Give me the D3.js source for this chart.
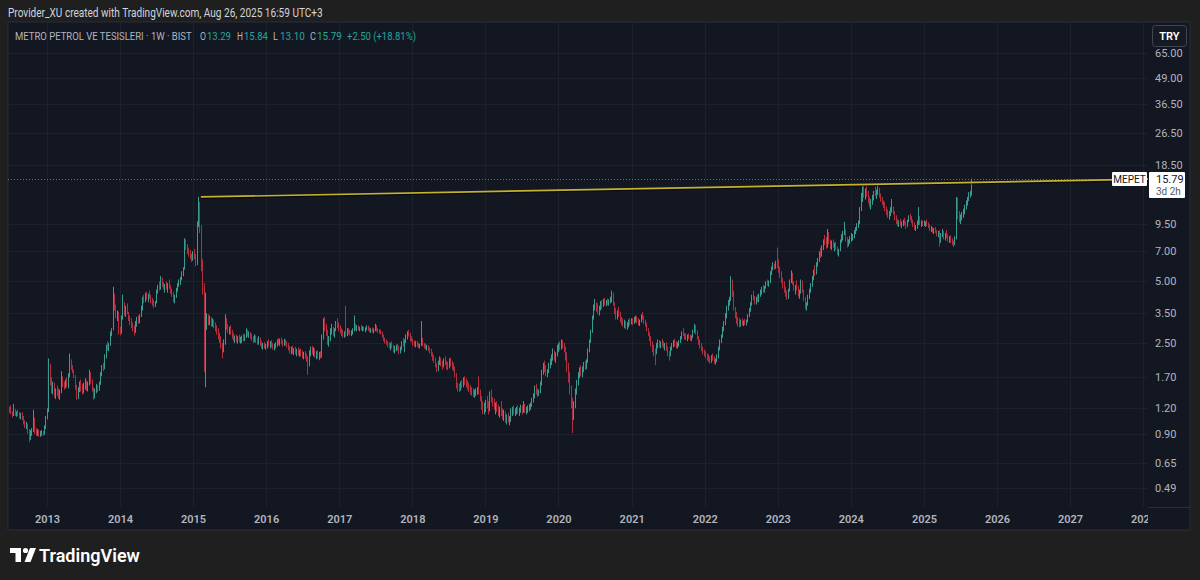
<!DOCTYPE html>
<html><head><meta charset="utf-8">
<script src="https://cdn.jsdelivr.net/npm/d3@7"></script>
<style>html,body{margin:0;padding:0;background:#1f1f1f;}svg{display:block;font-family:Roboto,"Noto Sans",sans-serif;}</style>
</head><body><svg id="c" width="1200" height="580"></svg>
<script>
// ---------- DATA (weekly candles: [high, low, close]; open = previous close) ----------
const firstOpen = 1.20;
const w2012 = [[1.22,1.14,1.18],[1.24,1.12,1.14],[1.16,1.08,1.12],[1.26,1.10,1.17],[1.19,1.10,1.12],[1.16,1.09,1.13],[1.18,1.10,1.11],[1.15,1.07,1.09],[1.14,1.06,1.12],[1.15,1.05,1.08],[1.10,1.00,1.02],[1.05,0.96,0.98],[1.03,0.95,1.00],[1.01,0.90,0.92],[0.95,0.82,0.86],[0.94,0.84,0.92],[0.96,0.88,0.94],[1.18,0.92,1.05],[1.08,0.90,0.93],[0.96,0.88,0.91],[0.95,0.88,0.92],[0.94,0.87,0.90],[0.93,0.87,0.91],[0.94,0.88,0.92],[0.93,0.88,0.90],[0.99,0.89,0.97],[1.10,0.95,1.08]];
const w2013 = [[1.20,1.06,1.18],[2.10,1.15,1.95],[1.98,1.55,1.62],[1.70,1.42,1.50],[1.62,1.40,1.58],[1.60,1.35,1.40],[1.50,1.33,1.45],[1.55,1.38,1.42],[1.50,1.34,1.38],[1.48,1.32,1.44],[1.82,1.42,1.70],[1.72,1.52,1.56],[1.62,1.48,1.52],[1.66,1.50,1.60],[1.70,1.52,1.55],[1.78,1.50,1.72],[2.22,1.70,2.05],[2.08,1.85,1.90],[1.95,1.78,1.82],[1.86,1.68,1.72],[1.74,1.48,1.52],[1.56,1.32,1.38],[1.52,1.33,1.48],[1.62,1.44,1.58],[1.66,1.45,1.50],[1.58,1.40,1.46],[1.60,1.42,1.55],[1.68,1.48,1.62],[1.64,1.46,1.50],[1.62,1.45,1.58],[1.85,1.55,1.78],[1.80,1.58,1.62],[1.66,1.45,1.48],[1.52,1.32,1.38],[1.50,1.34,1.46],[1.58,1.42,1.52],[1.56,1.44,1.48],[1.62,1.46,1.58],[1.80,1.56,1.76],[1.95,1.72,1.90],[2.00,1.82,1.88],[2.20,1.86,2.15],[2.45,2.10,2.40],[2.55,2.30,2.35],[2.50,2.28,2.46],[2.85,2.42,2.78],[2.95,2.70,2.90],[4.70,2.88,4.20],[4.35,3.60,3.70],[3.85,3.30,3.40],[3.60,3.20,3.50],[3.55,2.75,2.90]];
const w2014 = [[3.00,2.72,2.80],[3.40,2.78,3.30],[4.30,3.25,3.90],[3.95,3.40,3.55],[3.80,3.35,3.70],[3.90,3.45,3.50],[3.55,3.20,3.30],[3.40,3.05,3.15],[3.30,2.95,3.05],[3.15,2.85,2.95],[3.05,2.72,2.85],[3.20,2.80,3.10],[3.35,3.00,3.25],[3.40,3.10,3.20],[3.45,3.12,3.38],[3.80,3.35,3.70],[4.20,3.60,4.10],[4.30,3.90,4.00],[4.40,3.95,4.30],[4.45,4.05,4.15],[4.35,3.95,4.25],[4.50,4.10,4.20],[4.30,3.90,4.00],[4.15,3.80,3.95],[4.05,3.70,3.85],[4.00,3.75,3.92],[4.55,3.90,4.45],[4.80,4.35,4.70],[5.00,4.50,4.60],[5.30,4.55,5.10],[5.20,4.70,4.80],[4.95,4.55,4.65],[4.85,4.40,4.75],[5.00,4.55,4.62],[4.90,4.40,4.85],[5.10,4.60,4.70],[4.80,4.35,4.45],[4.60,4.20,4.30],[4.45,3.95,4.10],[4.30,3.90,4.20],[4.65,4.15,4.55],[4.90,4.45,4.80],[5.10,4.70,4.90],[5.25,4.80,5.15],[5.60,5.05,5.50],[5.85,5.30,5.75],[8.10,5.70,7.60],[8.00,7.10,7.40],[7.60,6.80,7.00],[7.30,6.60,6.90],[7.10,6.40,6.55],[6.80,6.20,6.50]];
const w2015 = [[7.00,6.30,6.80],[7.20,6.40,6.60],[6.80,5.90,6.10],[9.80,6.00,9.40],[12.90,9.20,11.90],[12.20,8.60,9.20],[9.40,5.60,6.10],[6.40,4.30,4.70],[4.90,1.80,2.45],[4.40,1.52,3.30],[3.50,2.90,3.40],[3.45,3.05,3.20],[3.40,3.05,3.30],[3.35,3.00,3.10],[3.30,3.00,3.20],[3.25,2.95,3.05],[3.15,2.85,2.95],[3.05,2.75,2.90],[2.95,2.60,2.70],[2.80,2.50,2.60],[2.70,2.35,2.45],[2.50,2.10,2.30],[2.60,2.25,2.50],[3.45,2.45,3.20],[3.30,2.90,3.00],[3.10,2.80,2.90],[3.00,2.75,2.95],[3.05,2.75,2.80],[2.90,2.62,2.70],[2.80,2.55,2.62],[2.72,2.50,2.66],[2.75,2.52,2.58],[2.70,2.48,2.62],[2.74,2.52,2.55],[2.68,2.48,2.60],[2.72,2.50,2.65],[2.78,2.55,2.62],[2.75,2.55,2.70],[2.95,2.65,2.88],[2.90,2.68,2.75],[2.85,2.65,2.80],[2.82,2.62,2.70],[2.78,2.55,2.62],[2.70,2.50,2.58],[2.75,2.52,2.68],[2.72,2.50,2.55],[2.65,2.45,2.50],[2.70,2.45,2.62],[2.66,2.42,2.48],[2.55,2.35,2.42],[2.50,2.32,2.45],[2.52,2.35,2.40],[2.48,2.32,2.42]];
const w2016 = [[2.55,2.35,2.50],[2.60,2.40,2.45],[2.55,2.35,2.52],[2.58,2.38,2.42],[2.50,2.32,2.40],[2.48,2.30,2.44],[2.52,2.35,2.48],[2.60,2.40,2.55],[2.65,2.45,2.50],[2.62,2.42,2.58],[2.66,2.46,2.52],[2.58,2.40,2.48],[2.62,2.42,2.55],[2.60,2.44,2.50],[2.55,2.38,2.42],[2.50,2.30,2.38],[2.42,2.22,2.30],[2.40,2.20,2.35],[2.42,2.22,2.28],[2.36,2.18,2.32],[2.40,2.20,2.26],[2.34,2.15,2.30],[2.38,2.18,2.24],[2.32,2.14,2.28],[2.35,2.15,2.22],[2.30,2.10,2.18],[2.26,2.08,2.20],[2.28,2.10,2.15],[2.22,2.02,2.10],[2.15,1.75,1.95],[2.30,1.92,2.25],[2.40,2.15,2.35],[2.42,2.20,2.28],[2.38,2.15,2.30],[2.35,2.12,2.20],[2.28,2.08,2.22],[2.30,2.10,2.18],[2.26,2.06,2.20],[2.28,2.10,2.14],[2.75,2.12,2.65],[3.30,2.60,3.10],[3.35,2.85,2.95],[3.10,2.70,2.80],[2.90,2.45,2.55],[2.70,2.40,2.62],[2.95,2.55,2.85],[3.10,2.75,2.90],[3.00,2.70,2.78],[2.95,2.65,2.90],[3.20,2.85,3.10],[3.30,2.95,3.05],[3.15,2.85,2.95]];
const w2017 = [[3.05,2.78,2.85],[2.95,2.70,2.80],[2.90,2.65,2.75],[2.85,2.65,2.78],[3.80,2.68,2.72],[2.95,2.70,2.88],[2.95,2.75,2.82],[2.90,2.72,2.78],[2.88,2.70,2.85],[2.95,2.75,2.90],[3.40,2.85,3.05],[3.10,2.88,2.95],[3.05,2.85,3.00],[3.05,2.88,2.92],[3.00,2.85,2.98],[3.05,2.88,2.94],[3.02,2.85,2.96],[3.00,2.86,2.90],[2.98,2.82,2.95],[3.05,2.88,3.00],[3.04,2.86,2.92],[2.98,2.82,2.88],[2.95,2.80,2.90],[2.98,2.82,2.86],[2.94,2.78,2.92],[3.10,2.85,3.02],[3.05,2.85,2.90],[2.95,2.80,2.88],[2.92,2.78,2.84],[2.90,2.75,2.80],[2.84,2.65,2.70],[2.75,2.55,2.60],[2.65,2.48,2.55],[2.60,2.45,2.50],[2.55,2.38,2.45],[2.52,2.35,2.40],[2.50,2.30,2.45],[2.55,2.35,2.38],[2.45,2.25,2.32],[2.42,2.22,2.35],[2.45,2.28,2.40],[2.48,2.30,2.36],[2.42,2.20,2.30],[2.40,2.22,2.35],[2.55,2.30,2.50],[2.65,2.40,2.45],[2.60,2.25,2.55],[2.75,2.50,2.70],[2.85,2.60,2.80],[2.90,2.68,2.75],[2.80,2.55,2.60],[2.70,2.52,2.58]];
const w2018 = [[2.62,2.42,2.50],[2.58,2.40,2.45],[2.55,2.38,2.52],[2.56,2.40,2.44],[2.50,2.36,2.42],[2.48,2.35,2.46],[3.20,2.42,2.60],[2.65,2.40,2.45],[2.50,2.35,2.42],[2.48,2.32,2.38],[2.45,2.30,2.40],[2.44,2.28,2.32],[2.38,2.22,2.30],[2.34,2.15,2.20],[2.25,2.05,2.12],[2.18,2.00,2.08],[2.12,1.90,1.95],[2.00,1.80,1.85],[2.05,1.82,2.00],[2.15,1.95,2.10],[2.12,1.92,1.98],[2.05,1.85,1.92],[2.10,1.90,2.05],[2.15,1.95,2.00],[2.05,1.86,1.95],[2.02,1.84,1.90],[2.10,1.88,2.05],[2.12,1.92,1.98],[2.04,1.85,1.92],[2.00,1.82,1.90],[1.92,1.70,1.75],[1.78,1.50,1.55],[1.60,1.45,1.52],[1.58,1.44,1.50],[1.62,1.46,1.58],[1.65,1.50,1.55],[1.70,1.52,1.66],[1.72,1.56,1.62],[1.68,1.52,1.58],[1.64,1.48,1.55],[1.60,1.44,1.50],[1.56,1.40,1.46],[1.52,1.38,1.44],[1.50,1.36,1.40],[1.48,1.35,1.42],[1.50,1.38,1.45],[1.52,1.40,1.48],[1.72,1.40,1.44],[1.48,1.30,1.35],[1.38,1.18,1.22],[1.30,1.12,1.20],[1.28,1.12,1.24]];
const w2019 = [[1.32,1.15,1.28],[1.38,1.20,1.25],[1.30,1.12,1.18],[1.45,1.16,1.40],[1.48,1.28,1.32],[1.36,1.22,1.30],[1.34,1.18,1.22],[1.28,1.12,1.25],[1.30,1.15,1.20],[1.25,1.10,1.15],[1.22,1.08,1.18],[1.30,1.10,1.14],[1.20,1.06,1.10],[1.18,1.04,1.12],[1.16,1.02,1.06],[1.12,1.00,1.08],[1.14,1.02,1.04],[1.10,0.99,1.05],[1.20,1.03,1.15],[1.22,1.10,1.18],[1.24,1.12,1.16],[1.20,1.10,1.17],[1.22,1.12,1.19],[1.24,1.13,1.16],[1.21,1.10,1.18],[1.25,1.14,1.20],[1.24,1.12,1.17],[1.30,1.14,1.22],[1.26,1.14,1.18],[1.22,1.12,1.20],[1.24,1.14,1.21],[1.26,1.16,1.23],[1.28,1.18,1.26],[1.35,1.22,1.32],[1.42,1.28,1.38],[1.55,1.34,1.50],[1.58,1.40,1.45],[1.50,1.36,1.42],[1.48,1.38,1.46],[1.62,1.42,1.58],[1.85,1.55,1.80],[2.00,1.75,1.95],[2.05,1.80,1.88],[1.95,1.72,1.78],[1.86,1.70,1.82],[2.00,1.78,1.95],[2.10,1.88,2.02],[2.20,1.95,2.15],[2.35,2.05,2.28],[2.30,2.05,2.12],[2.25,2.00,2.20],[2.45,2.15,2.40]];
const w2020 = [[2.50,2.25,2.45],[2.55,2.30,2.40],[2.60,2.32,2.52],[2.58,2.35,2.45],[2.50,2.25,2.30],[2.40,2.05,2.15],[2.25,1.80,1.95],[2.00,1.60,1.70],[1.80,1.40,1.50],[1.55,1.20,1.30],[1.35,0.91,1.10],[1.30,1.05,1.25],[1.50,1.20,1.45],[1.65,1.40,1.60],[1.80,1.55,1.75],[1.90,1.68,1.82],[1.95,1.72,1.78],[1.92,1.70,1.88],[2.02,1.80,1.95],[2.05,1.85,1.92],[2.08,1.86,2.02],[2.35,2.00,2.30],[2.60,2.25,2.55],[2.90,2.50,2.85],[3.40,2.80,3.30],[3.85,3.25,3.75],[4.10,3.60,3.85],[3.95,3.55,3.70],[3.90,3.45,3.60],[3.80,3.40,3.75],[4.00,3.60,3.90],[4.05,3.65,3.80],[4.10,3.75,4.00],[4.15,3.80,3.90],[4.05,3.78,4.02],[4.12,3.82,3.95],[4.08,3.80,4.05],[4.20,3.90,4.10],[4.50,3.95,4.25],[4.40,3.80,3.85],[3.95,3.45,3.55],[3.70,3.25,3.40],[3.60,3.25,3.50],[3.75,3.35,3.45],[3.55,3.15,3.25],[3.35,3.05,3.20],[3.30,3.00,3.10],[3.25,2.95,3.15],[3.20,2.92,3.05],[3.15,2.90,3.10],[3.25,2.98,3.20],[3.30,3.05,3.15],[3.30,3.08,3.22]];
const w2021 = [[3.30,3.05,3.20],[3.35,3.10,3.25],[3.40,3.15,3.30],[3.38,3.12,3.22],[3.30,3.05,3.15],[3.25,3.02,3.20],[3.45,3.15,3.35],[3.55,3.25,3.30],[3.40,3.10,3.18],[3.25,3.00,3.10],[3.15,2.85,2.92],[2.95,2.70,2.78],[2.82,2.55,2.62],[2.70,2.40,2.48],[2.55,2.25,2.35],[2.45,2.15,2.28],[2.35,1.95,2.25],[2.50,2.20,2.45],[2.60,2.35,2.50],[2.58,2.38,2.45],[2.55,2.35,2.52],[2.62,2.40,2.48],[2.55,2.35,2.42],[2.50,2.30,2.45],[2.52,2.28,2.35],[2.40,2.15,2.22],[2.28,2.05,2.18],[2.40,2.15,2.35],[2.50,2.30,2.45],[2.58,2.38,2.52],[2.62,2.40,2.48],[2.55,2.35,2.42],[2.52,2.35,2.50],[2.58,2.40,2.55],[2.70,2.50,2.65],[2.85,2.60,2.80],[2.95,2.70,2.75],[2.80,2.60,2.70],[2.78,2.58,2.66],[2.75,2.55,2.70],[2.78,2.60,2.68],[2.74,2.56,2.62],[2.72,2.55,2.68],[2.90,2.65,2.85],[3.10,2.80,3.00],[3.05,2.75,2.85],[2.88,2.60,2.65],[2.70,2.45,2.55],[2.60,2.35,2.42],[2.50,2.28,2.35],[2.40,2.20,2.25],[2.32,2.15,2.22]];
const w2022 = [[2.28,2.10,2.18],[2.22,2.05,2.12],[2.20,2.02,2.08],[2.15,1.98,2.05],[2.18,2.00,2.12],[2.22,2.05,2.10],[2.15,1.98,2.02],[2.10,1.96,2.06],[2.20,2.02,2.15],[2.40,2.10,2.35],[2.60,2.30,2.55],[2.75,2.50,2.70],[3.00,2.65,2.95],[3.20,2.85,3.10],[3.50,3.05,3.40],[3.80,3.30,3.70],[4.05,3.60,3.90],[4.20,3.80,4.10],[5.30,4.00,4.80],[5.10,4.20,4.40],[4.50,3.60,3.70],[3.75,3.30,3.45],[3.55,3.10,3.20],[3.35,3.00,3.15],[3.30,2.98,3.05],[3.25,3.00,3.20],[3.30,3.05,3.12],[3.22,3.02,3.18],[3.28,3.05,3.15],[3.25,3.04,3.20],[3.45,3.15,3.40],[3.70,3.35,3.60],[3.95,3.55,3.85],[4.30,3.80,4.20],[4.50,4.05,4.10],[4.25,3.85,3.95],[4.20,3.85,4.10],[4.30,3.95,4.05],[4.35,3.95,4.25],[4.55,4.20,4.45],[4.70,4.30,4.60],[4.80,4.40,4.50],[4.75,4.40,4.65],[5.00,4.60,4.90],[5.10,4.75,4.85],[5.05,4.70,4.98],[5.60,4.90,5.50],[5.90,5.35,5.80],[6.20,5.65,6.00],[6.10,5.70,5.85],[6.30,5.75,6.15],[7.30,5.80,6.00]];
const w2023 = [[6.40,5.50,5.70],[5.90,5.20,5.35],[5.60,4.90,5.00],[5.20,4.60,4.75],[5.00,4.40,4.55],[4.70,4.20,4.35],[4.50,4.05,4.20],[4.60,4.10,4.50],[5.10,4.45,5.00],[5.65,4.90,5.40],[5.50,4.80,4.90],[5.00,4.50,4.65],[4.80,4.30,4.70],[5.05,4.50,4.60],[4.75,4.20,4.40],[4.55,4.10,4.45],[5.10,4.35,4.95],[5.05,4.40,4.50],[4.55,4.00,4.10],[4.20,3.65,3.80],[3.95,3.60,3.85],[4.30,3.80,4.20],[4.60,4.10,4.50],[4.90,4.40,4.80],[5.30,4.70,5.20],[5.70,5.05,5.55],[6.00,5.30,5.45],[6.20,5.40,6.05],[6.50,5.90,6.35],[7.00,6.20,6.85],[7.30,6.50,6.70],[7.50,6.60,7.35],[8.00,7.10,7.80],[8.40,7.50,7.65],[8.20,7.20,7.40],[9.00,7.30,8.50],[8.70,7.60,7.80],[8.00,7.20,7.50],[7.90,7.10,7.70],[8.00,7.30,7.45],[7.70,7.00,7.60],[7.80,7.10,7.30],[7.40,6.70,6.90],[7.20,6.60,7.05],[8.00,7.00,7.90],[8.50,7.70,8.20],[8.80,7.90,8.65],[9.75,8.40,8.90],[8.95,7.80,8.00],[8.20,7.30,7.60],[8.00,7.40,7.80],[8.30,7.60,8.10]];
const w2024 = [[8.60,7.80,8.20],[8.50,7.90,8.30],[8.90,8.10,8.70],[9.20,8.50,9.00],[9.60,8.80,9.40],[9.90,9.10,9.70],[11.50,9.50,11.20],[13.50,11.00,13.00],[14.60,12.20,14.00],[14.80,12.80,13.20],[14.20,12.50,13.80],[14.70,12.90,13.40],[13.80,12.00,12.30],[12.90,11.50,11.90],[12.60,11.20,12.30],[13.20,11.80,12.80],[13.80,12.40,13.50],[14.50,13.00,13.30],[14.00,12.60,13.70],[14.80,13.20,14.00],[14.30,12.80,13.00],[13.40,12.20,12.50],[12.90,11.80,12.10],[12.40,11.40,11.70],[12.20,11.00,11.30],[11.60,10.50,10.80],[11.20,10.20,10.50],[11.00,10.00,10.70],[11.50,10.40,11.10],[12.60,10.80,11.40],[11.60,10.60,10.80],[11.00,9.90,10.20],[10.50,9.50,9.80],[10.10,9.30,9.60],[9.90,9.20,9.70],[10.10,9.30,9.50],[9.80,9.10,9.60],[10.00,9.30,9.80],[10.20,9.40,9.55],[9.80,9.00,9.30],[10.00,9.20,9.90],[10.50,9.70,10.30],[10.70,9.90,10.20],[10.40,9.60,9.80],[10.00,9.20,9.40],[9.70,8.90,9.10],[9.40,8.80,9.20],[9.90,9.00,9.60],[11.50,9.40,10.20],[10.40,9.40,9.60],[9.90,9.20,9.70],[9.90,9.30,9.50]];
const w2025 = [[9.90,9.30,9.60],[9.80,9.20,9.60],[10.00,9.30,9.50],[9.70,9.10,9.40],[9.50,8.80,9.00],[9.30,8.70,9.10],[9.20,8.60,8.80],[9.10,8.50,8.90],[9.20,8.60,8.70],[8.90,8.30,8.50],[8.80,8.20,8.60],[8.90,7.40,7.90],[8.60,7.70,8.40],[9.00,8.20,8.60],[8.80,8.00,8.20],[8.60,7.90,8.40],[8.90,8.10,8.30],[8.50,7.80,8.00],[8.30,7.70,8.10],[8.40,7.70,7.90],[8.10,7.50,7.80],[7.90,7.35,7.60],[8.30,7.50,8.10],[12.90,8.00,12.40],[12.80,10.00,10.50],[11.00,9.70,10.00],[10.60,9.50,10.30],[10.90,9.90,10.50],[11.30,10.20,11.00],[11.80,10.60,11.50],[12.40,11.20,12.00],[12.90,11.70,12.50],[13.60,12.30,13.00],[13.80,12.80,13.29],[15.84,13.10,15.79]];

const yearTicks = [2013,2014,2015,2016,2017,2018,2019,2020,2021,2022,2023,2024,2025,2026,2027,2028];
const priceTicks = [65,49,36.5,26.5,18.5,9.5,7,5,3.5,2.5,1.7,1.2,0.9,0.65,0.49];
const trendPoints = [["2015-02-09",12.90],["2024-04-01",14.85]];
const lastPrice = 15.79;
const headerText = "Provider_XU created with TradingView.com, Aug 26, 2025 16:59 UTC+3";
const titleText = "METRO PETROL VE TESISLERI · 1W · BIST";
const ohlcLabels = ["O","H","L","C"];
const ohlcValues = ["13.29","15.84","13.10","15.79"];
const changeText = "+2.50 (+18.81%)";

// ---------- BUILD ----------
const yearData = [[2012,w2012],[2013,w2013],[2014,w2014],[2015,w2015],[2016,w2016],[2017,w2017],[2018,w2018],[2019,w2019],[2020,w2020],[2021,w2021],[2022,w2022],[2023,w2023],[2024,w2024],[2025,w2025]];
const candles = [];
let prev = firstOpen;
yearData.forEach(([yr, arr]) => {
  const start = yr === 2012 ? new Date(2012,5,25) : d3.timeMonday.floor(new Date(yr,0,4));
  arr.forEach((d,k) => {
    const [h,l,c] = d, o = prev;
    candles.push({date: d3.timeMonday.offset(start,k), o, h: Math.max(h,o,c), l: Math.min(l,o,c), c});
    prev = c;
  });
});

const UP = "#3a9b90", DOWN = "#b22e3d";
const TXT = "#b2b5be", BG = "#131722", GRID = "#1d212c";
const PL = 8, PR = 1148, PT = 22, PB = 507;

const svg = d3.select("#c");
svg.append("rect").attr("width",1200).attr("height",580).attr("fill","#1f1f1f");
svg.append("rect").attr("x",8).attr("y",22).attr("width",1182).attr("height",508).attr("fill",BG).attr("stroke","#2a2e39").attr("stroke-width",1);

const xs = d3.scaleTime().domain([new Date(2013,0,1), new Date(2025,0,1)]).range([47,924]);
const ys = d3.scaleLog().domain([0.49,65]).range([488,53]);

const defs = svg.append("defs");
defs.append("clipPath").attr("id","plot").append("rect").attr("x",PL).attr("y",PT).attr("width",PR-PL).attr("height",PB-PT);
defs.append("clipPath").attr("id","taxis").append("rect").attr("x",PL).attr("y",PB).attr("width",PR-PL).attr("height",23);

// grid
const grid = svg.append("g").attr("clip-path","url(#plot)");
grid.selectAll("line.v").data(yearTicks).join("line")
  .attr("x1",d=>Math.round(xs(new Date(d,0,1)))+0.5).attr("x2",d=>Math.round(xs(new Date(d,0,1)))+0.5)
  .attr("y1",PT).attr("y2",PB).attr("stroke",GRID);
grid.selectAll("line.h").data(priceTicks).join("line")
  .attr("x1",PL).attr("x2",PR).attr("y1",d=>Math.round(ys(d))+0.5).attr("y2",d=>Math.round(ys(d))+0.5).attr("stroke",GRID);

// last price dotted line
grid.append("line").attr("x1",PL).attr("x2",PR).attr("y1",Math.round(ys(lastPrice))+0.5).attr("y2",Math.round(ys(lastPrice))+0.5)
  .attr("stroke","#6a6d78").attr("stroke-dasharray","1,2");

// candles
const cg = svg.append("g").attr("clip-path","url(#plot)");
cg.selectAll("line.w").data(candles).join("line")
  .attr("x1",d=>Math.round(xs(d.date))+0.5).attr("x2",d=>Math.round(xs(d.date))+0.5)
  .attr("y1",d=>ys(d.h)).attr("y2",d=>ys(d.l))
  .attr("stroke",d=>d.c>=d.o?UP:DOWN).attr("stroke-width",1);
cg.selectAll("rect.b").data(candles).join("rect")
  .attr("x",d=>Math.round(xs(d.date))).attr("width",1)
  .attr("y",d=>ys(Math.max(d.o,d.c))).attr("height",d=>Math.max(1,Math.abs(ys(d.o)-ys(d.c))))
  .attr("fill",d=>d.c>=d.o?UP:DOWN);

// trend line
const tp = trendPoints.map(([s,v])=>[xs(d3.timeParse("%Y-%m-%d")(s)), ys(v)]);
const slope = (tp[1][1]-tp[0][1])/(tp[1][0]-tp[0][0]);
const tEnd = [PR, tp[0][1]+slope*(PR-tp[0][0])];
const tg = svg.append("g").attr("clip-path","url(#plot)");
tg.append("line").attr("x1",tp[0][0]).attr("y1",tp[0][1]+1).attr("x2",tEnd[0]).attr("y2",tEnd[1]+1).attr("stroke","#000").attr("stroke-opacity",0.6).attr("stroke-width",2);
tg.append("line").attr("x1",tp[0][0]).attr("y1",tp[0][1]).attr("x2",tEnd[0]).attr("y2",tEnd[1]).attr("stroke","#c4b22e").attr("stroke-width",1.6);

// price axis
const pa = svg.append("g").attr("transform",`translate(1148,0)`)
  .call(d3.axisRight(ys).tickValues(priceTicks).tickFormat(d3.format(".2f")).tickSize(0).tickPadding(7));
pa.select(".domain").remove();
pa.selectAll("text").attr("fill",TXT).attr("font-size",11).attr("font-family","Roboto, sans-serif");

// time axis
const ta = svg.append("g").attr("clip-path","url(#taxis)").append("g").attr("transform",`translate(0,${PB})`)
  .call(d3.axisBottom(xs).tickValues(yearTicks.map(y=>new Date(y,0,1))).tickFormat(d3.timeFormat("%Y")).tickSize(0).tickPadding(8));
ta.select(".domain").remove();
ta.selectAll("text").attr("fill",TXT).attr("font-size",11).attr("font-weight",600).attr("font-family","Roboto, sans-serif");
svg.append("line").attr("x1",PR).attr("x2",1190).attr("y1",PB+0.5).attr("y2",PB+0.5).attr("stroke","#2a2e39");

// text fitted to a target width by horizontal scaling (keeps real text, avoids overlaps)
function fitText(x, y, target, str, fill, size, weight) {
  const t = svg.append("text").attr("x",0).attr("y",0).attr("fill",fill).attr("font-size",size)
    .attr("font-weight",weight || 400).text(str);
  const w = t.node().getComputedTextLength() || target;
  t.attr("transform",`translate(${x},${y}) scale(${target/w},1)`);
  return t;
}

// header
fitText(8, 17, 315, headerText, "#d1d4dc", 12);
fitText(15, 40, 177, titleText, TXT, 11);
const lx = [200,237,273,310], lw = [6,6,5,6];
const vx = [207,244,280,317], vw = [24,24,25,25];
ohlcLabels.forEach((t,i)=>{
  fitText(lx[i], 40, lw[i], t, TXT, 11);
  fitText(vx[i], 40, vw[i], ohlcValues[i], "#26a69a", 11);
});
fitText(347, 40, 69, changeText, "#26a69a", 11);

// TRY box
svg.append("rect").attr("x",1152.5).attr("y",25.5).attr("width",34).attr("height",21).attr("rx",3)
  .attr("fill","#161a23").attr("stroke","#434651");
svg.append("text").attr("x",1169.5).attr("y",40).attr("text-anchor","middle").attr("fill","#ffffff")
  .attr("font-size",11).attr("font-weight",600).text("TRY");

// MEPET labels
const ly = ys(lastPrice);
svg.append("rect").attr("x",1112).attr("y",ly-7).attr("width",35).attr("height",14).attr("fill","#ffffff").attr("rx",1);
svg.append("text").attr("x",1129.5).attr("y",ly+4).attr("text-anchor","middle").attr("fill","#131722").attr("font-size",10).text("MEPET");
svg.append("rect").attr("x",1149).attr("y",ly-7).attr("width",36).attr("height",26).attr("fill","#ffffff").attr("rx",1);
svg.append("text").attr("x",1156).attr("y",ly+4).attr("fill","#131722").attr("font-size",11).text(d3.format(".2f")(lastPrice));
svg.append("text").attr("x",1156).attr("y",ly+16).attr("fill","#555a66").attr("font-size",10).text("3d 2h");

// footer logo
const lg = svg.append("g").attr("fill","#ffffff");
lg.append("path").attr("d","M10,548 H21 V562 H15.5 V553 H10 Z");
lg.append("circle").attr("cx",25.5).attr("cy",550.5).attr("r",2.6);
lg.append("path").attr("d","M30,548 H36 L30.5,562 H24.5 Z");
fitText(39, 562, 101, "TradingView", "#ffffff", 19, 600);
</script></body></html>
